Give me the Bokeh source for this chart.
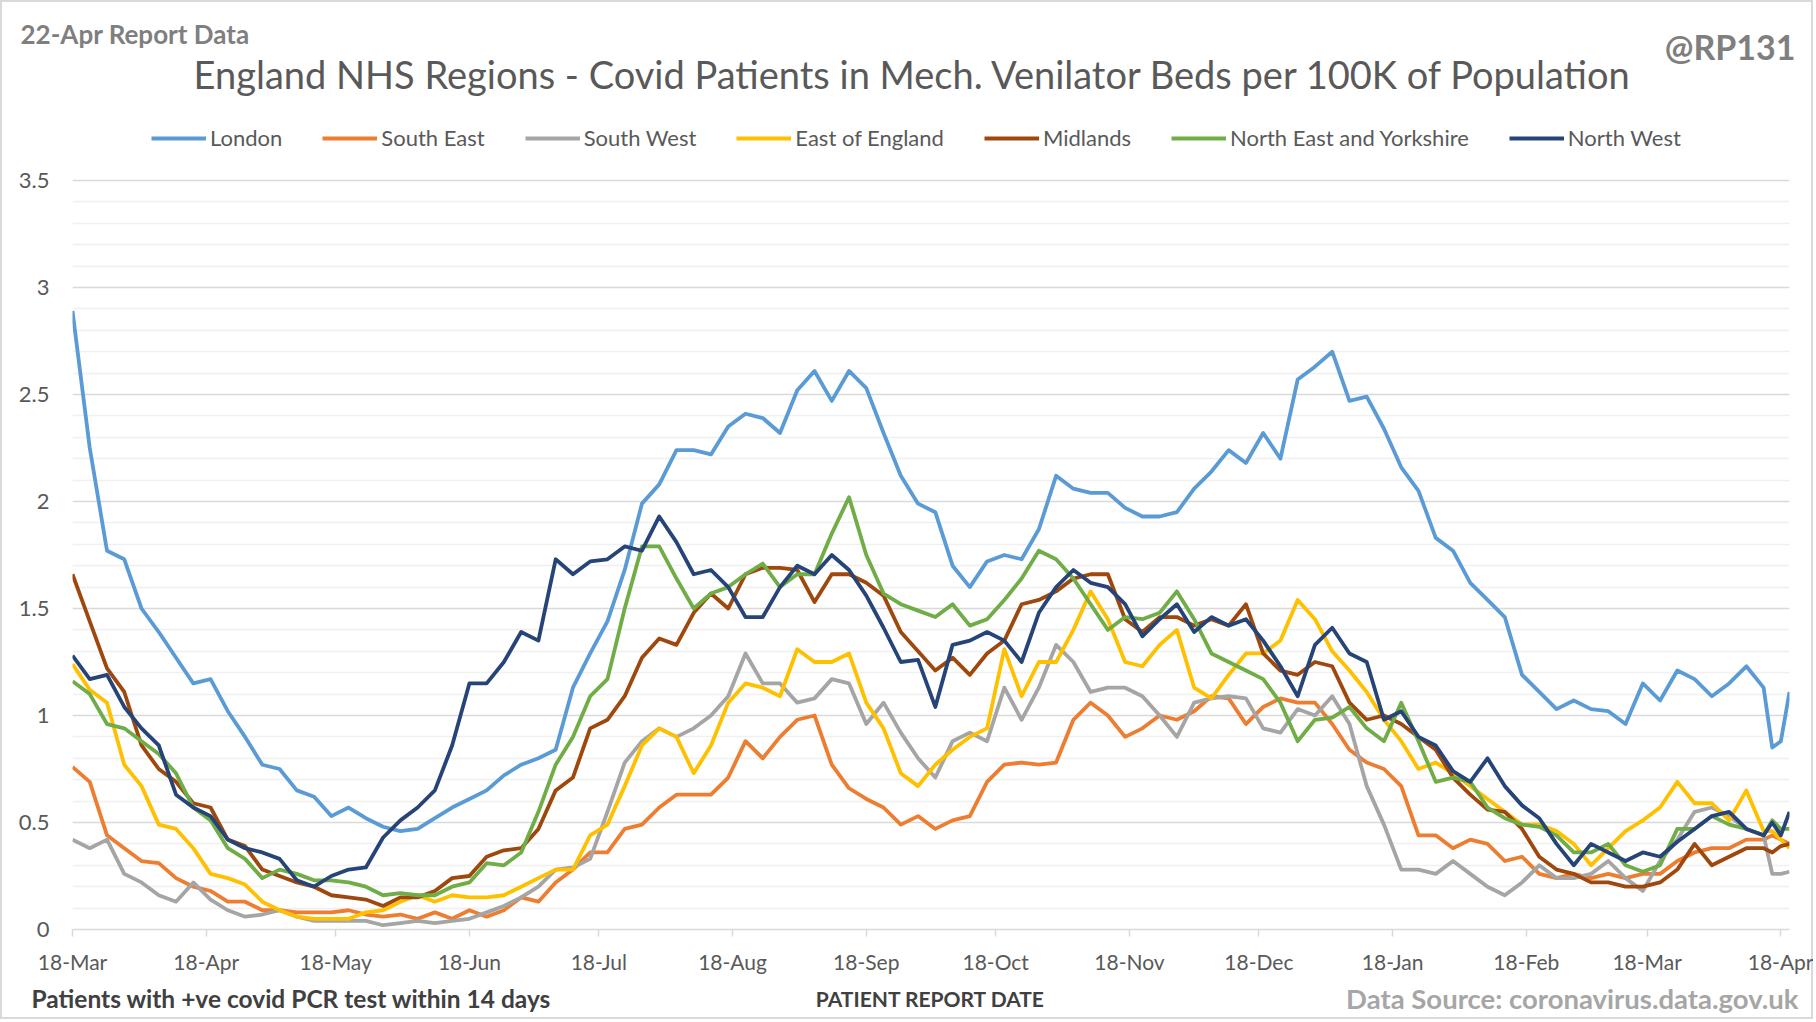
import pandas as pd
from bokeh.plotting import figure
from bokeh.models import (Range1d, FixedTicker, DatetimeTickFormatter, Legend,
                          LegendItem, Label)
from bokeh.embed import file_html
from bokeh.resources import INLINE

# ---------------- data ----------------
start_date = "2020-03-18"
day_offsets = list(range(0, 393, 4)) + [394, 396, 398]

series_names = ["London", "South East", "South West", "East of England",
                "Midlands", "North East and Yorkshire", "North West"]
series_colors = ["#5B9BD5", "#ED7D31", "#A5A5A5", "#FFC000",
                 "#9E480E", "#70AD47", "#264478"]

london = [2.89, 2.25, 1.77, 1.73, 1.50, 1.39, 1.27, 1.15, 1.17, 1.02, 0.90, 0.77, 0.75, 0.65, 0.62, 0.53, 0.57, 0.52, 0.48, 0.46, 0.47, 0.52, 0.57, 0.61, 0.65,
          0.72, 0.77, 0.80, 0.84, 1.13, 1.29, 1.44, 1.68, 1.99, 2.08, 2.24, 2.24, 2.22, 2.35, 2.41, 2.39, 2.32, 2.52, 2.61, 2.47, 2.61, 2.53, 2.32, 2.12, 1.99,
          1.95, 1.70, 1.60, 1.72, 1.75, 1.73, 1.87, 2.12, 2.06, 2.04, 2.04, 1.97, 1.93, 1.93, 1.95, 2.06, 2.14, 2.24, 2.18, 2.32, 2.20, 2.57, 2.63, 2.70,
          2.47, 2.49, 2.34, 2.16, 2.05, 1.83, 1.77, 1.62, 1.54, 1.46, 1.19, 1.11, 1.03, 1.07, 1.03, 1.02, 0.96, 1.15, 1.07, 1.21, 1.17, 1.09, 1.15, 1.23, 1.13,
          0.85, 0.88, 1.11]
south_east = [0.76, 0.69, 0.44, 0.38, 0.32, 0.31, 0.24, 0.20, 0.18, 0.13, 0.13, 0.09, 0.09, 0.08, 0.08, 0.08, 0.09, 0.07, 0.06, 0.07, 0.05, 0.08, 0.05, 0.09, 0.06,
              0.09, 0.15, 0.13, 0.22, 0.28, 0.36, 0.36, 0.47, 0.49, 0.57, 0.63, 0.63, 0.63, 0.71, 0.88, 0.80, 0.90, 0.98, 1.00, 0.77, 0.66, 0.61, 0.57, 0.49, 0.53,
              0.47, 0.51, 0.53, 0.69, 0.77, 0.78, 0.77, 0.78, 0.98, 1.06, 1.00, 0.90, 0.94, 1.00, 0.98, 1.02, 1.09, 1.08, 0.96, 1.04, 1.08, 1.06, 1.06, 0.96,
              0.84, 0.78, 0.75, 0.67, 0.44, 0.44, 0.38, 0.42, 0.40, 0.32, 0.34, 0.26, 0.24, 0.26, 0.24, 0.26, 0.24, 0.26, 0.26, 0.32, 0.36, 0.38, 0.38, 0.42, 0.42,
              0.44, 0.42, 0.40]
south_west = [0.42, 0.38, 0.42, 0.26, 0.22, 0.16, 0.13, 0.22, 0.14, 0.09, 0.06, 0.07, 0.09, 0.06, 0.04, 0.04, 0.04, 0.04, 0.02, 0.03, 0.04, 0.03, 0.04, 0.05, 0.08,
              0.11, 0.15, 0.20, 0.28, 0.29, 0.33, 0.55, 0.78, 0.88, 0.94, 0.90, 0.94, 1.00, 1.09, 1.29, 1.15, 1.15, 1.06, 1.08, 1.17, 1.15, 0.96, 1.06, 0.92, 0.80,
              0.71, 0.88, 0.92, 0.88, 1.13, 0.98, 1.13, 1.33, 1.25, 1.11, 1.13, 1.13, 1.09, 1.00, 0.90, 1.06, 1.08, 1.09, 1.08, 0.94, 0.92, 1.03, 1.00, 1.09,
              0.96, 0.67, 0.49, 0.28, 0.28, 0.26, 0.32, 0.26, 0.20, 0.16, 0.22, 0.30, 0.24, 0.24, 0.26, 0.32, 0.24, 0.18, 0.32, 0.42, 0.55, 0.57, 0.53, 0.47, 0.44,
              0.26, 0.26, 0.27]
east_of_england = [1.24, 1.12, 1.06, 0.77, 0.67, 0.49, 0.47, 0.38, 0.26, 0.24, 0.21, 0.13, 0.09, 0.06, 0.05, 0.05, 0.05, 0.08, 0.09, 0.13, 0.16, 0.13, 0.16, 0.15, 0.15,
                   0.16, 0.20, 0.24, 0.28, 0.28, 0.44, 0.49, 0.67, 0.86, 0.94, 0.90, 0.73, 0.86, 1.06, 1.15, 1.13, 1.09, 1.31, 1.25, 1.25, 1.29, 1.06, 0.94, 0.73, 0.67,
                   0.77, 0.84, 0.90, 0.94, 1.31, 1.09, 1.25, 1.25, 1.40, 1.58, 1.45, 1.25, 1.23, 1.33, 1.40, 1.13, 1.08, 1.19, 1.29, 1.29, 1.35, 1.54, 1.45, 1.30,
                   1.21, 1.11, 0.98, 0.88, 0.75, 0.78, 0.73, 0.67, 0.61, 0.55, 0.49, 0.49, 0.46, 0.40, 0.30, 0.38, 0.46, 0.51, 0.57, 0.69, 0.59, 0.59, 0.51, 0.65, 0.46,
                   0.46, 0.42, 0.38]
midlands = [1.66, 1.44, 1.22, 1.11, 0.86, 0.75, 0.69, 0.59, 0.57, 0.42, 0.39, 0.28, 0.25, 0.22, 0.20, 0.16, 0.15, 0.14, 0.11, 0.15, 0.15, 0.18, 0.24, 0.25, 0.34,
            0.37, 0.38, 0.47, 0.65, 0.71, 0.94, 0.98, 1.09, 1.27, 1.36, 1.33, 1.48, 1.57, 1.50, 1.66, 1.69, 1.69, 1.68, 1.53, 1.66, 1.66, 1.62, 1.56, 1.39, 1.30,
            1.21, 1.27, 1.19, 1.29, 1.35, 1.52, 1.54, 1.58, 1.64, 1.66, 1.66, 1.45, 1.39, 1.46, 1.46, 1.42, 1.45, 1.42, 1.52, 1.29, 1.21, 1.19, 1.25, 1.23,
            1.06, 0.98, 1.00, 0.96, 0.90, 0.84, 0.71, 0.63, 0.56, 0.55, 0.47, 0.34, 0.28, 0.26, 0.22, 0.22, 0.20, 0.20, 0.22, 0.28, 0.40, 0.30, 0.34, 0.38, 0.38,
            0.36, 0.39, 0.40]
north_east_yorks = [1.16, 1.10, 0.96, 0.94, 0.88, 0.82, 0.73, 0.57, 0.51, 0.38, 0.33, 0.24, 0.28, 0.26, 0.23, 0.23, 0.22, 0.20, 0.16, 0.17, 0.16, 0.16, 0.20, 0.22, 0.31,
                    0.30, 0.36, 0.55, 0.77, 0.90, 1.09, 1.17, 1.50, 1.79, 1.79, 1.64, 1.50, 1.57, 1.60, 1.66, 1.71, 1.60, 1.66, 1.66, 1.85, 2.02, 1.75, 1.57, 1.52, 1.49,
                    1.46, 1.52, 1.42, 1.45, 1.54, 1.64, 1.77, 1.73, 1.64, 1.52, 1.40, 1.46, 1.45, 1.48, 1.58, 1.45, 1.29, 1.25, 1.21, 1.17, 1.06, 0.88, 0.98, 0.99,
                    1.04, 0.94, 0.88, 1.06, 0.88, 0.69, 0.71, 0.69, 0.57, 0.52, 0.49, 0.48, 0.44, 0.36, 0.36, 0.40, 0.30, 0.27, 0.30, 0.47, 0.47, 0.53, 0.49, 0.47, 0.44,
                    0.51, 0.47, 0.47]
north_west = [1.28, 1.17, 1.19, 1.04, 0.94, 0.86, 0.63, 0.57, 0.53, 0.42, 0.38, 0.36, 0.33, 0.23, 0.20, 0.25, 0.28, 0.29, 0.43, 0.51, 0.57, 0.65, 0.86, 1.15, 1.15,
              1.25, 1.39, 1.35, 1.73, 1.66, 1.72, 1.73, 1.79, 1.77, 1.93, 1.81, 1.66, 1.68, 1.60, 1.46, 1.46, 1.60, 1.70, 1.66, 1.75, 1.68, 1.56, 1.41, 1.25, 1.26,
              1.04, 1.33, 1.35, 1.39, 1.35, 1.25, 1.48, 1.60, 1.68, 1.62, 1.60, 1.52, 1.37, 1.45, 1.52, 1.39, 1.46, 1.42, 1.45, 1.35, 1.23, 1.09, 1.33, 1.41,
              1.29, 1.25, 0.98, 1.02, 0.90, 0.86, 0.74, 0.69, 0.80, 0.67, 0.58, 0.52, 0.40, 0.30, 0.40, 0.36, 0.32, 0.36, 0.34, 0.41, 0.47, 0.53, 0.55, 0.47, 0.44,
              0.50, 0.44, 0.55]

series_values = [london, south_east, south_west, east_of_england,
                 midlands, north_east_yorks, north_west]

tick_dates = ["2020-03-18", "2020-04-18", "2020-05-18", "2020-06-18", "2020-07-18",
              "2020-08-18", "2020-09-18", "2020-10-18", "2020-11-18", "2020-12-18",
              "2021-01-18", "2021-02-18", "2021-03-18", "2021-04-18"]
y_ticks = [0, 0.5, 1, 1.5, 2, 2.5, 3, 3.5]
y_tick_labels = ["0", "0.5", "1", "1.5", "2", "2.5", "3", "3.5"]
y_minor = [round(i * 0.1, 1) for i in range(36) if i % 5 != 0]
y_max_tick = 3.5

report_note = "22-Apr Report Data"
chart_title = "England NHS Regions - Covid Patients in Mech. Venilator Beds per 100K of Population"
handle = "@RP131"
footnote = "Patients with +ve covid PCR test within 14 days"
x_title = "PATIENT REPORT DATE"
source_note = "Data Source: coronavirus.data.gov.uk"

# ---------------- layout constants (page pixels) ----------------
FONT = "Lato"
W = 1813              # chart width (its border sits at the right edge)
PAGE_H = 1019         # chart height (its border sits at the bottom edge)
HEAD_H = 110          # title band: 0..110
GRID_TOP = 180        # pixel row of the 3.5 gridline
AXIS_Y = 929          # pixel row of the x axis (value 0)
FRAME_LEFT, FRAME_RIGHT = 72, 1789
FOOT_TOP = 980        # footer band: 980..PAGE_H
PX_PER_UNIT = (AXIS_Y - GRID_TOP) / y_max_tick
MAIN_H = FOOT_TOP - HEAD_H
FOOT_H = PAGE_H - FOOT_TOP
EDGE = "#d9d9d9"

def shadows(*sides):
    parts = {"left": f"inset 2px 0 0 {EDGE}", "right": f"inset -2px 0 0 {EDGE}",
             "top": f"inset 0 2px 0 {EDGE}", "bottom": f"inset 0 -2px 0 {EDGE}"}
    return {"box-shadow": ", ".join(parts[s] for s in sides)}

def band(h, y_top):
    f = figure(width=W, height=h, output_backend="svg", toolbar_location=None,
               x_range=Range1d(0, W), y_range=Range1d(y_top + h, y_top),
               x_axis_location=None, y_axis_location=None,
               min_border=0, background_fill_color=None, border_fill_color=None)
    f.outline_line_color = None
    f.grid.visible = False
    return f

def lab(f, text, px, py, size, align, color, bold=False):
    f.add_layout(Label(x=px, y=py, text=text, text_font=FONT, text_font_size=size,
                       text_align=align, text_baseline="middle", text_color=color,
                       text_font_style="bold" if bold else "normal"))

# ---------------- header ----------------
head = band(HEAD_H, 0)
head.styles = shadows("left", "right", "top")
lab(head, report_note, 20, 33, "26px", "left", "#7f7f7f", True)
lab(head, chart_title, 913, 73, "38px", "center", "#595959")
lab(head, handle, 1795, 46, "34px", "right", "#7f7f7f", True)

# ---------------- main plot (frame extends up to hold the legend) ----------------
start = pd.Timestamp(start_date)
dates = [start + pd.Timedelta(days=d) for d in day_offsets]
ms = lambda t: pd.Timestamp(t).value / 1e6
y_top_value = y_max_tick + (GRID_TOP - HEAD_H) / PX_PER_UNIT

p = figure(width=W, height=MAIN_H, output_backend="svg", toolbar_location=None,
           x_axis_type="datetime", x_range=Range1d(ms(dates[0]), ms(dates[-1])),
           y_range=Range1d(0, y_top_value),
           min_border_left=FRAME_LEFT, min_border_right=W - FRAME_RIGHT, min_border_top=0,
           min_border_bottom=FOOT_TOP - AXIS_Y, background_fill_color=None,
           border_fill_color=None)
p.outline_line_color = None
p.styles = shadows("left", "right")

renderers = []
for name, vals, col in zip(series_names, series_values, series_colors):
    renderers.append(p.line(dates, vals, line_color=col, line_width=3.8, line_join="round"))

legend = Legend(items=[LegendItem(label=n, renderers=[r]) for n, r in zip(series_names, renderers)],
                orientation="horizontal", location=(79, AXIS_Y - 151), spacing=40,
                glyph_width=55, glyph_height=24, label_height=24, label_standoff=4,
                label_text_font=FONT, label_text_font_size="22px",
                label_text_color="#595959", padding=0, margin=0,
                border_line_alpha=0, background_fill_alpha=0)
p.add_layout(legend)

p.xaxis.ticker = FixedTicker(ticks=[ms(t) for t in tick_dates])
p.xaxis.formatter = DatetimeTickFormatter(days="%d-%b", months="%d-%b", years="%d-%b")
p.xaxis.axis_line_color = EDGE
p.xaxis.axis_line_width = 1.5
p.xaxis.major_tick_line_color = EDGE
p.xaxis.major_tick_line_width = 1.5
p.xaxis.major_tick_out = 7
p.xaxis.major_tick_in = 0
p.xaxis.minor_tick_line_color = None
p.xaxis.major_label_standoff = 12
p.xaxis.major_label_text_font_size = "21px"
p.xgrid.visible = False

p.yaxis.ticker = FixedTicker(ticks=y_ticks, minor_ticks=y_minor)
p.yaxis.major_label_overrides = {t: l for t, l in zip(y_ticks, y_tick_labels)}
p.yaxis.axis_line_color = None
p.yaxis.major_tick_line_color = None
p.yaxis.minor_tick_line_color = None
p.yaxis.major_tick_out = 0
p.yaxis.major_tick_in = 0
p.yaxis.minor_tick_out = 0
p.yaxis.major_label_standoff = 23
p.yaxis.major_label_text_font_size = "22px"
p.ygrid.ticker = FixedTicker(ticks=y_ticks, minor_ticks=y_minor)
p.ygrid.grid_line_color = EDGE
p.ygrid.grid_line_width = 1.5
p.ygrid.minor_grid_line_color = "#f0f0f0"
p.ygrid.minor_grid_line_width = 1.5

for ax in (p.xaxis[0], p.yaxis[0]):
    ax.major_label_text_font = FONT
    ax.major_label_text_color = "#595959"

# ---------------- footer ----------------
foot = band(FOOT_H, FOOT_TOP)
foot.styles = shadows("left", "right", "bottom")
lab(foot, footnote, 31, 998, "24.5px", "left", "#404040", True)
lab(foot, x_title, 930, 998, "21px", "center", "#404040", True)
lab(foot, source_note, 1798, 998, "27.5px", "right", "#a6a6a6", True)

open("out.html", "w").write(file_html([head, p, foot], INLINE))
